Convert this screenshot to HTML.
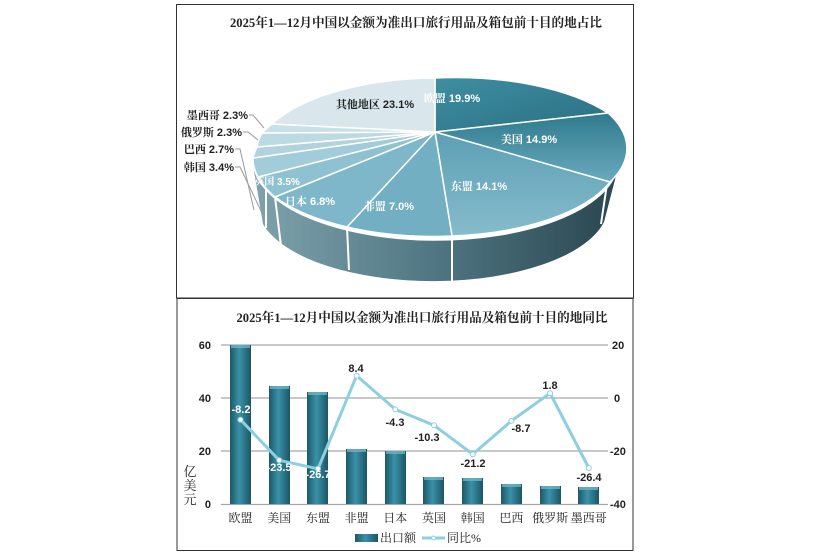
<!DOCTYPE html>
<html><head><meta charset="utf-8"><style>
html,body{margin:0;padding:0;background:#fff;}
svg{display:block;}
text{font-family:"Liberation Sans","Noto Sans CJK SC",sans-serif;}
.t{font-family:"Liberation Serif","Noto Serif CJK SC",serif;font-weight:bold;font-size:13px;fill:#222;}
.cj, .cj text, tspan.cj{font-family:"Liberation Serif","Noto Serif CJK SC",serif;}
</style></head><body>
<svg width="815" height="552" viewBox="0 0 815 552" xmlns="http://www.w3.org/2000/svg">
<defs>
<linearGradient id="side" x1="0" y1="0" x2="1" y2="0">
<stop offset="0" stop-color="#7fa3ad"/><stop offset="0.5" stop-color="#4f7682"/><stop offset="1" stop-color="#2a4650"/></linearGradient>
<linearGradient id="g1" x1="0" y1="0" x2="1" y2="1"><stop offset="0" stop-color="#3e8ea2"/><stop offset="1" stop-color="#2b6f82"/></linearGradient>
<linearGradient id="g2" x1="0" y1="0" x2="0" y2="1"><stop offset="0" stop-color="#2f7a8d"/><stop offset="1" stop-color="#6aaabd"/></linearGradient>
<linearGradient id="g3" x1="0" y1="0" x2="0" y2="1"><stop offset="0" stop-color="#5d9fb5"/><stop offset="1" stop-color="#86bccc"/></linearGradient>
<linearGradient id="bar" x1="0" y1="0" x2="1" y2="0"><stop offset="0" stop-color="#1d5868"/><stop offset="0.45" stop-color="#3a92a7"/><stop offset="1" stop-color="#1b5565"/></linearGradient>
</defs>
<rect x="176.5" y="4.5" width="457" height="293.5" fill="#fff" stroke="#333"/>
<rect x="177" y="298.5" width="456" height="252" fill="#fff" stroke="#333"/>
<text class="t" x="416" y="27" text-anchor="middle" textLength="372" lengthAdjust="spacingAndGlyphs">2025年1—12月中国以金额为准出口旅行用品及箱包前十目的地占比</text>
<path d="M253,165 A183,80 0 0 0 618,168 L604,222 A175,75 0 0 1 263,224 Z" fill="url(#side)"/>
<g stroke="#fff" stroke-width="2">
<line x1="275" y1="197" x2="281" y2="246"/><line x1="347" y1="227" x2="349" y2="270"/><line x1="452" y1="236" x2="452" y2="283"/><line x1="607" y1="184" x2="601" y2="224"/><line x1="266" y1="185" x2="266" y2="228"/>
</g>
<g stroke="#fff" stroke-width="1.5" stroke-linejoin="round">
<path d="M435,132 L435,78 A183,80 0 0 1 608,113 Z" fill="url(#g1)"/>
<path d="M435,132 L608,113 A183,80 0 0 1 610,182 Z" fill="url(#g2)"/>
<path d="M435,132 L610,182 A183,80 0 0 1 452,236 Z" fill="url(#g3)"/>
<path d="M435,132 L452,236 A183,80 0 0 1 347,227 Z" fill="#72afc3"/>
<path d="M435,132 L347,227 A183,80 0 0 1 275,197 Z" fill="#7eb7c9"/>
<path d="M435,132 L275,197 A183,80 0 0 1 258,177 Z" fill="#8fc2d1"/>
<path d="M435,132 L258,177 A183,80 0 0 1 253,158 Z" fill="#a2ccd9"/>
<path d="M435,132 L253,158 A183,80 0 0 1 257,147 Z" fill="#b0d3de"/>
<path d="M435,132 L257,147 A183,80 0 0 1 262,133 Z" fill="#bcdae3"/>
<path d="M435,132 L262,133 A183,80 0 0 1 272,124 Z" fill="#c8e0e7"/>
<path d="M435,132 L272,124 A183,80 0 0 1 435,78 Z" fill="#d9e7ec"/>
</g>
<g font-size="11" font-weight="bold" fill="#fff">
<text x="452" y="102" text-anchor="middle"><tspan class="cj">欧盟</tspan> 19.9%</text>
<text x="529" y="143" text-anchor="middle"><tspan class="cj">美国</tspan> 14.9%</text>
<text x="479" y="190" text-anchor="middle"><tspan class="cj">东盟</tspan> 14.1%</text>
<text x="389" y="210" text-anchor="middle"><tspan class="cj">非盟</tspan> 7.0%</text>
<text x="310" y="205" text-anchor="middle"><tspan class="cj">日本</tspan> 6.8%</text>
<text x="277" y="185" text-anchor="middle" font-size="10"><tspan class="cj">英国</tspan> 3.5%</text>
<text x="375" y="108" text-anchor="middle" fill="#222"><tspan class="cj">其他地区</tspan> 23.1%</text>
</g>
<g font-size="11" font-weight="bold" fill="#222">
<text x="248" y="119" text-anchor="end"><tspan class="cj">墨西哥</tspan> 2.3%</text>
<text x="242" y="136" text-anchor="end"><tspan class="cj">俄罗斯</tspan> 2.3%</text>
<text x="234" y="153" text-anchor="end"><tspan class="cj">巴西</tspan> 2.7%</text>
<text x="234" y="171" text-anchor="end"><tspan class="cj">韩国</tspan> 3.4%</text>
</g>
<g stroke="#999" fill="none" stroke-width="1">
<polyline points="249,115 253,115 264,128"/><polyline points="243,132 248,132 258,140"/><polyline points="235,149 240,149 254,210"/><polyline points="235,167 240,167 262,213"/>
</g>
<text class="t" x="422" y="322" text-anchor="middle" textLength="371" lengthAdjust="spacingAndGlyphs">2025年1—12月中国以金额为准出口旅行用品及箱包前十目的地同比</text>
<g stroke="#a6a6a6" stroke-width="1.3"><line x1="221" y1="345" x2="608" y2="345"/><line x1="221" y1="398" x2="608" y2="398"/><line x1="221" y1="451" x2="608" y2="451"/><line x1="221" y1="504.5" x2="608" y2="504.5"/></g>
<g font-size="11" font-weight="bold" fill="#222" text-anchor="end">
<text x="211" y="349">60</text><text x="211" y="402">40</text><text x="211" y="455">20</text><text x="211" y="508">0</text></g>
<g font-size="11" font-weight="bold" fill="#222" text-anchor="start">
<text x="612" y="349">20</text><text x="614" y="402">0</text><text x="610" y="455">-20</text><text x="610" y="508">-40</text></g>
<g font-size="13" class="cj" fill="#222" text-anchor="middle"><text x="190" y="476">亿</text><text x="190" y="490">美</text><text x="190" y="504">元</text></g>
<g fill="url(#bar)">
<rect x="230" y="345" width="21" height="159"/>
<rect x="269" y="386" width="21" height="118"/>
<rect x="307" y="392" width="21" height="112"/>
<rect x="346" y="449" width="21" height="55"/>
<rect x="385" y="451" width="21" height="53"/>
<rect x="423" y="477" width="21" height="27"/>
<rect x="462" y="478" width="21" height="26"/>
<rect x="501" y="484" width="21" height="20"/>
<rect x="540" y="486" width="21" height="18"/>
<rect x="578" y="487" width="21" height="17"/>
</g>
<g fill="#6fb3c6" opacity="0.8">
<rect x="231" y="345" width="19" height="3"/><rect x="270" y="386" width="19" height="3"/><rect x="308" y="392" width="19" height="3"/><rect x="347" y="449" width="19" height="3"/><rect x="386" y="451" width="19" height="3"/><rect x="424" y="477" width="19" height="3"/><rect x="463" y="478" width="19" height="3"/><rect x="502" y="484" width="19" height="3"/><rect x="541" y="486" width="19" height="3"/><rect x="579" y="487" width="19" height="3"/>
</g>
<polyline fill="none" stroke="#8ccfe0" stroke-width="3" stroke-linejoin="round" points="240.5,419.7 279.2,460.3 318,468.8 356.6,375.7 395.3,409.4 434,425.3 472.7,454.2 511.4,420.9 550.1,393.2 588.8,468"/>
<g fill="#fff" stroke="#8ccfe0" stroke-width="1">
<circle cx="240.5" cy="419.7" r="2.5"/><circle cx="279.2" cy="460.3" r="2.5"/><circle cx="318" cy="468.8" r="2.5"/><circle cx="356.6" cy="375.7" r="2.5"/><circle cx="395.3" cy="409.4" r="2.5"/><circle cx="434" cy="425.3" r="2.5"/><circle cx="472.7" cy="454.2" r="2.5"/><circle cx="511.4" cy="420.9" r="2.5"/><circle cx="550.1" cy="393.2" r="2.5"/><circle cx="588.8" cy="468" r="2.5"/>
</g>
<g font-size="11" font-weight="bold" text-anchor="middle" fill="#222">
<text x="241" y="413" fill="#fff">-8.2</text>
<text x="279" y="471" fill="#fff">-23.5</text>
<text x="318" y="478" fill="#fff">-26.7</text>
<text x="356" y="372">8.4</text>
<text x="395" y="426">-4.3</text>
<text x="427" y="441">-10.3</text>
<text x="473" y="467">-21.2</text>
<text x="521" y="432">-8.7</text>
<text x="550" y="389">1.8</text>
<text x="589" y="481">-26.4</text>
</g>
<g font-size="12" class="cj" fill="#222" text-anchor="middle">
<text x="240.5" y="522">欧盟</text><text x="279.2" y="522">美国</text><text x="318" y="522">东盟</text><text x="356.6" y="522">非盟</text><text x="395.3" y="522">日本</text><text x="434" y="522">英国</text><text x="472.7" y="522">韩国</text><text x="511.4" y="522">巴西</text><text x="550.1" y="522">俄罗斯</text><text x="588.8" y="522">墨西哥</text>
</g>
<rect x="355" y="534" width="23" height="8" fill="url(#bar)"/>
<text x="380" y="542" font-size="12" class="cj" fill="#222" style="font-family:'Liberation Serif','Noto Serif CJK SC',serif">出口额</text>
<line x1="422" y1="538" x2="445" y2="538" stroke="#8ccfe0" stroke-width="3"/>
<circle cx="433.5" cy="538" r="2" fill="#fff" stroke="#8ccfe0"/>
<text x="447" y="542" font-size="12" fill="#222" style="font-family:'Liberation Serif','Noto Serif CJK SC',serif">同比%</text>
</svg>
</body></html>
